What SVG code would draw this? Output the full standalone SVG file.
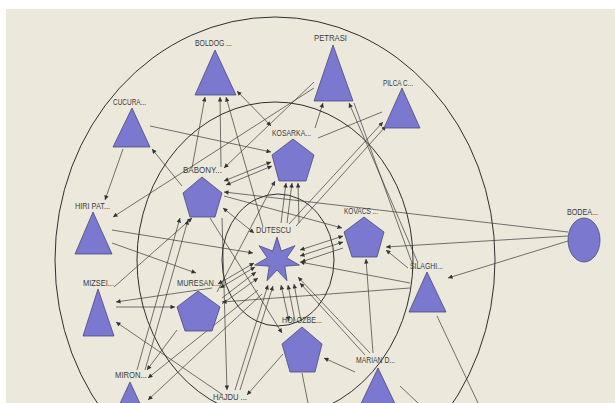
<svg xmlns="http://www.w3.org/2000/svg" width="615" height="403" viewBox="0 0 615 403">
<defs>
<marker id="a" viewBox="0 0 10 10" refX="10" refY="5" markerWidth="7" markerHeight="4.5" markerUnits="userSpaceOnUse" orient="auto-start-reverse"><path d="M0,0 L10,5 L0,10 z" fill="#333"/></marker>
<style>
.bg{fill:#ECE9DC}
.ring{fill:none;stroke:#2e2e2e;stroke-width:1}
.n{fill:#7B78D0;stroke:#4a4a78;stroke-width:0.8}
.e line{stroke:#3a3a3a;stroke-width:0.7}
.e .s{marker-end:url(#a)}
.e .b{marker-start:url(#a);marker-end:url(#a)}
text{font-family:"Liberation Sans",Arial,sans-serif;font-size:8.5px;fill:#3a3a3a}
</style>
</defs>
<rect width="615" height="403" fill="#ffffff"/>
<rect class="bg" x="6" y="9" width="609" height="394"/>
<g id="rings">
<ellipse class="ring" cx="275" cy="260" rx="220" ry="243"/>
<ellipse class="ring" cx="275" cy="260" rx="138" ry="158"/>
<ellipse class="ring" cx="278" cy="260" rx="56" ry="66"/>
</g>
<g id="edges" class="e">
<line class="s" x1="150" y1="126" x2="271" y2="152"/>
<line class="s" x1="123" y1="149" x2="105" y2="200"/>
<line class="s" x1="182" y1="186" x2="152" y2="149"/>
<line class="s" x1="192" y1="168" x2="205" y2="97"/>
<line class="s" x1="221" y1="167" x2="220" y2="97"/>
<line class="s" x1="263" y1="227" x2="226" y2="97"/>
<line class="b" x1="237" y1="91" x2="271" y2="126"/>
<line class="s" x1="314" y1="82" x2="224" y2="168"/>
<line class="s" x1="314" y1="88" x2="113" y2="217"/>
<line class="s" x1="315" y1="128" x2="323" y2="103"/>
<line class="s" x1="418" y1="263" x2="349" y2="103"/>
<line x1="412" y1="263" x2="354" y2="103"/>
<line x1="318" y1="138" x2="382" y2="112"/>
<line class="s" x1="289" y1="224" x2="383" y2="122"/>
<line class="s" x1="296" y1="226" x2="386" y2="126"/>
<line class="b" x1="224" y1="181" x2="271" y2="162"/>
<line class="b" x1="226" y1="185" x2="272" y2="166"/>
<line class="s" x1="281" y1="223" x2="286" y2="183"/>
<line class="s" x1="287" y1="223" x2="292" y2="183"/>
<line class="s" x1="299" y1="223" x2="298" y2="183"/>
<line class="s" x1="224" y1="196" x2="342" y2="228"/>
<line class="s" x1="568" y1="232" x2="224" y2="192"/>
<line class="s" x1="568" y1="236" x2="386" y2="247"/>
<line class="s" x1="568" y1="241" x2="448" y2="278"/>
<line class="s" x1="408" y1="268" x2="386" y2="250"/>
<line class="s" x1="410" y1="283" x2="300" y2="262"/>
<line class="s" x1="410" y1="288" x2="222" y2="302"/>
<line x1="437" y1="316" x2="478" y2="403"/>
<line class="b" x1="343" y1="236" x2="300" y2="250"/>
<line class="b" x1="343" y1="242" x2="300" y2="256"/>
<line class="s" x1="343" y1="248" x2="301" y2="262"/>
<line class="s" x1="373" y1="353" x2="366" y2="259"/>
<line class="s" x1="370" y1="353" x2="298" y2="277"/>
<line class="s" x1="365" y1="355" x2="300" y2="283"/>
<line class="s" x1="355" y1="372" x2="324" y2="358"/>
<line x1="400" y1="386" x2="418" y2="403"/>
<line class="b" x1="289" y1="321" x2="281" y2="285"/>
<line class="s" x1="295" y1="321" x2="288" y2="285"/>
<line class="s" x1="301" y1="321" x2="294" y2="284"/>
<line class="s" x1="112" y1="230" x2="253" y2="253"/>
<line class="s" x1="112" y1="243" x2="196" y2="273"/>
<line class="s" x1="212" y1="288" x2="116" y2="302"/>
<line class="s" x1="116" y1="307" x2="175" y2="307"/>
<line class="s" x1="114" y1="287" x2="192" y2="218"/>
<line class="s" x1="223" y1="395" x2="116" y2="322"/>
<line class="s" x1="137" y1="370" x2="180" y2="218"/>
<line class="s" x1="145" y1="370" x2="188" y2="220"/>
<line class="s" x1="177" y1="330" x2="147" y2="370"/>
<line class="s" x1="258" y1="290" x2="148" y2="378"/>
<line class="s" x1="262" y1="294" x2="148" y2="400"/>
<line class="s" x1="222" y1="218" x2="227" y2="390"/>
<line class="s" x1="235" y1="390" x2="268" y2="285"/>
<line class="s" x1="240" y1="390" x2="273" y2="286"/>
<line class="s" x1="283" y1="354" x2="247" y2="395"/>
<line x1="302" y1="373" x2="308" y2="403"/>
<line class="b" x1="218" y1="284" x2="254" y2="263"/>
<line class="b" x1="220" y1="288" x2="255" y2="267"/>
<line class="s" x1="222" y1="298" x2="256" y2="272"/>
<line class="s" x1="222" y1="304" x2="258" y2="278"/>
<line class="b" x1="223" y1="208" x2="254" y2="233"/>
<line class="s" x1="217" y1="292" x2="275" y2="181"/>
<line class="s" x1="210" y1="218" x2="282" y2="333"/>
</g>
<g id="BOLDOG"><polygon class="n" points="215,50 236,95 195,95"/><text x="195" y="46" textLength="37" lengthAdjust="spacingAndGlyphs">BOLDOG ...</text></g>
<g id="PETRASI"><polygon class="n" points="333,45 353,101 314,101"/><text x="314" y="41" textLength="33" lengthAdjust="spacingAndGlyphs">PETRASI</text></g>
<g id="PILCA"><polygon class="n" points="402,88 420,128 384,128"/><text x="383" y="86" textLength="30" lengthAdjust="spacingAndGlyphs">PILCA C...</text></g>
<g id="CUCURA"><polygon class="n" points="132,108 150,147 113,147"/><text x="113" y="105" textLength="33" lengthAdjust="spacingAndGlyphs">CUCURA...</text></g>
<g id="KOSARKA"><polygon class="n" points="293,139 314,155 306,181 279,181 272,155"/><text x="272" y="136" textLength="39" lengthAdjust="spacingAndGlyphs">KOSARKA...</text></g>
<g id="BABONY"><polygon class="n" points="202,177 222,193 215,217 190,217 183,193"/><text x="183" y="173" textLength="39" lengthAdjust="spacingAndGlyphs">BABONY...</text></g>
<g id="HIRI"><polygon class="n" points="93,212 112,254 75,254"/><text x="75" y="209" textLength="35" lengthAdjust="spacingAndGlyphs">HIRI PAT...</text></g>
<g id="DUTESCU"><polygon class="n" points="277,237 281.3,251 295,245.7 286.7,257.8 299.4,265.1 284.8,266.2 287,280.7 277,270 267,280.7 269.2,266.2 254.6,265.1 267.3,257.8 259,245.7 272.7,251"/><text x="256" y="233" textLength="35" lengthAdjust="spacingAndGlyphs">DUTESCU</text></g>
<g id="KOVACS"><polygon class="n" points="364,217 384,232 377,257 352,257 344,232"/><text x="344" y="214" textLength="34" lengthAdjust="spacingAndGlyphs">KOVACS ...</text></g>
<g id="BODEA"><ellipse class="n" cx="584" cy="240" rx="16" ry="22"/><text x="567" y="215" textLength="31" lengthAdjust="spacingAndGlyphs">BODEA...</text></g>
<g id="SILAGHI"><polygon class="n" points="427,272 446,312 409,312"/><text x="410" y="269" textLength="33" lengthAdjust="spacingAndGlyphs">SILAGHI...</text></g>
<g id="MIZSEI"><polygon class="n" points="98,289 114,336 83,336"/><text x="83" y="286" textLength="31" lengthAdjust="spacingAndGlyphs">MIZSEI...</text></g>
<g id="MURESAN"><polygon class="n" points="198,291 220,307 212,331 185,331 177,307"/><text x="177" y="286" textLength="43" lengthAdjust="spacingAndGlyphs">MURESAN...</text></g>
<g id="HOLOZBE"><polygon class="n" points="302,327 322,344 315,372 290,372 282,344"/><text x="282" y="323" textLength="40" lengthAdjust="spacingAndGlyphs">HOLOZBE...</text></g>
<g id="MARIAN"><polygon class="n" points="378,368 399,412 357,412"/><text x="356" y="363" textLength="39" lengthAdjust="spacingAndGlyphs">MARIAN D...</text></g>
<g id="MIRON"><polygon class="n" points="130,382 150,425 110,425"/><text x="115" y="378" textLength="32" lengthAdjust="spacingAndGlyphs">MIRON...</text></g>
<g id="HAJDU"><text x="213" y="400" textLength="34" lengthAdjust="spacingAndGlyphs">HAJDU ...</text></g>
</svg>
